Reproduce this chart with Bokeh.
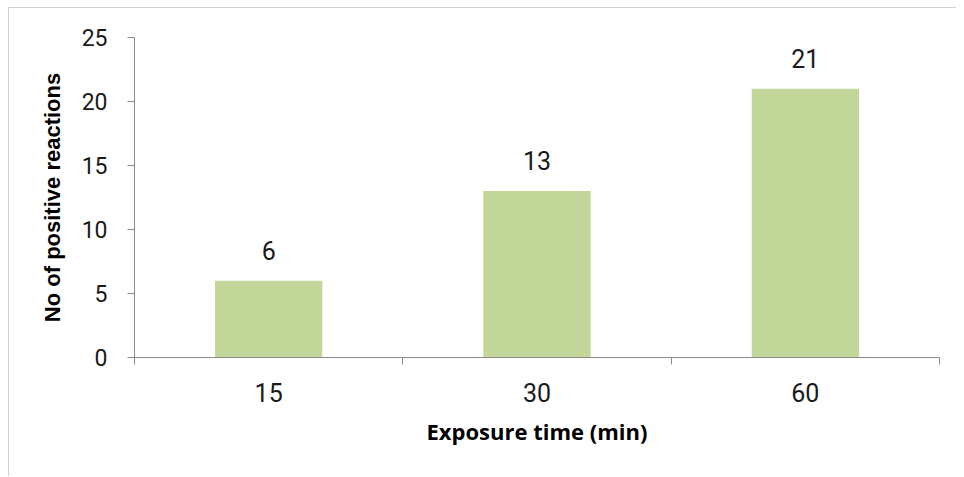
from bokeh.plotting import figure
from bokeh.models import ColumnDataSource, LabelSet, FixedTicker, Range1d
from bokeh.core.properties import value
from bokeh.embed import file_html
from bokeh.resources import INLINE

categories = ["15", "30", "60"]
values = [6, 13, 21]
y_ticks = [0, 5, 10, 15, 20, 25]

xs = [i + 0.5 for i in range(len(categories))]
src = ColumnDataSource(dict(x=xs, top=values, label=[str(v) for v in values]))

p = figure(width=948, height=469, output_backend="svg", toolbar_location=None,
           x_range=Range1d(0, len(categories)), y_range=Range1d(0, 25),
           min_border_left=125, min_border_right=18, min_border_top=29, min_border_bottom=120,
           styles={"border-left": "1px solid #d0d0d0", "border-top": "1px solid #d0d0d0",
                   "margin-left": "8px", "margin-top": "7px"})
p.outline_line_color = None
p.xgrid.visible = False
p.ygrid.visible = False

p.vbar(x="x", top="top", width=0.4, bottom=0, source=src, fill_color="#C4D79B", line_color=None)

labels = LabelSet(x="x", y="top", text="label", source=src, y_offset=21, text_align="center",
                  text_baseline="alphabetic", text_font=value("Roboto"), text_font_size="25px",
                  text_color="#1a1a1a")
p.add_layout(labels)

ax = p.xaxis[0]
ax.ticker = FixedTicker(ticks=xs, minor_ticks=list(range(len(categories) + 1)))
ax.major_label_overrides = {x: c for x, c in zip(xs, categories)}
ax.major_tick_out = 0
ax.major_tick_in = 0
ax.minor_tick_out = 7
ax.minor_tick_in = 0
ax.minor_tick_line_color = "#8c8c8c"
ax.axis_line_color = "#8c8c8c"
ax.major_label_standoff = 18
ax.major_label_text_font = "Roboto"
ax.major_label_text_font_size = "25px"
ax.major_label_text_color = "#1a1a1a"
ax.axis_label = "Exposure time (min)"
ax.axis_label_text_font = "Open Sans"
ax.axis_label_text_font_style = "bold"
ax.axis_label_text_font_size = "22px"
ax.axis_label_text_color = "#000000"
ax.axis_label_standoff = 11

ay = p.yaxis[0]
ay.ticker = FixedTicker(ticks=y_ticks, minor_ticks=[])
ay.major_tick_out = 7
ay.major_tick_in = 0
ay.major_tick_line_color = "#8c8c8c"
ay.axis_line_color = "#8c8c8c"
ay.major_label_standoff = 20
ay.major_label_text_font = "Roboto"
ay.major_label_text_font_size = "23px"
ay.major_label_text_color = "#1a1a1a"
ay.axis_label = "No of positive reactions"
ay.axis_label_text_font = "Liberation Sans"
ay.axis_label_text_font_style = "bold"
ay.axis_label_text_font_size = "22px"
ay.axis_label_text_color = "#000000"
ay.axis_label_standoff = 14

open("out.html", "w").write(file_html(p, INLINE))
